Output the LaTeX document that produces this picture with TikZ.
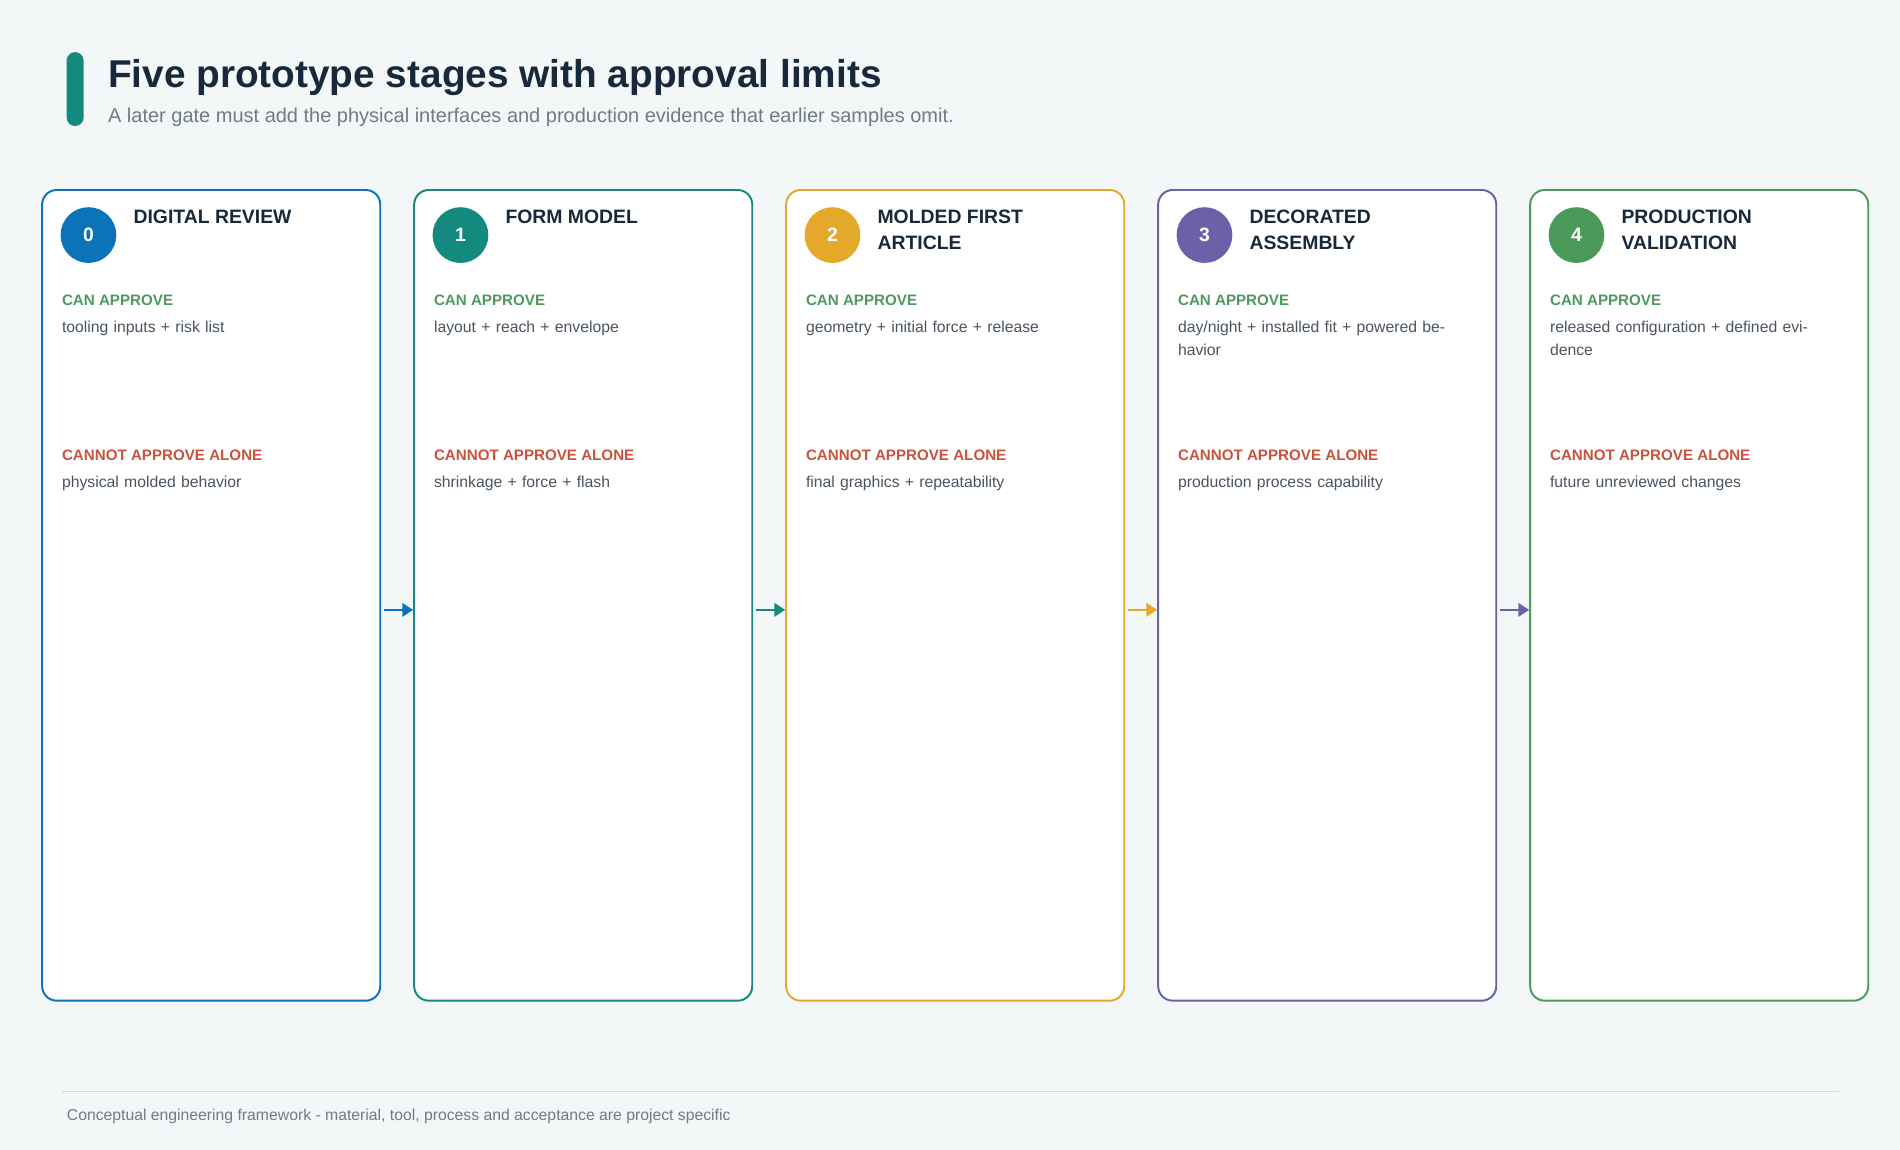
\documentclass[tikz,border=0pt]{standalone}
\usepackage{fontspec}
\setmainfont{Liberation Sans}
\usepackage{tikz}
\usetikzlibrary{arrows.meta,positioning}
\definecolor{bgcol}{HTML}{F3F7F8}
\definecolor{ink}{HTML}{17293A}
\definecolor{muted}{HTML}{6E7C86}
\definecolor{body}{HTML}{4A5560}
\definecolor{okgreen}{HTML}{4E9A5E}
\definecolor{nored}{HTML}{C9523D}
\definecolor{c0}{HTML}{0B73B7}
\definecolor{c1}{HTML}{138A7D}
\definecolor{c2}{HTML}{E4A82B}
\definecolor{c3}{HTML}{6E60A8}
\definecolor{c4}{HTML}{4B9A59}
\definecolor{rulecol}{HTML}{C7D8DE}
\tikzset{
  card/.style={draw=#1, line width=1.6pt, fill=white, rounded corners=12pt,
    minimum width=279pt, minimum height=669pt, anchor=north west, inner sep=0pt},
  badge/.style={circle, fill=#1, minimum size=46pt, inner sep=0pt, text=white,
    font=\fontsize{16}{16}\selectfont\bfseries},
  stagetitle/.style={anchor=north west, align=left, text=ink, inner sep=0pt,
    font=\fontsize{16}{21.5}\selectfont\bfseries},
  tag/.style={anchor=west, inner sep=0pt, text=#1, font=\fontsize{12.5}{13}\selectfont\bfseries},
  note/.style={anchor=north west, align=left, inner sep=0pt, text=body, text width=225pt,
    font=\fontsize{13}{19}\selectfont},
  flow/.style={-{Triangle[length=9pt,width=11pt]}, line width=2.2pt, draw=#1}
}
\begin{document}
\begin{tikzpicture}[x=1pt,y=-1pt]
\fill[bgcol] (0,0) rectangle (1568,949);
\useasboundingbox (0,0) rectangle (1568,949);
% heading
\fill[c1, rounded corners=7pt] (55,43) rectangle (69,104);
\node[anchor=base west, inner sep=0pt, text=ink, font=\fontsize{32}{32}\selectfont\bfseries]
  (title) at (89,72) {Five prototype stages with approval limits};
\node[anchor=base west, inner sep=0pt, text=muted, font=\fontsize{16.5}{17}\selectfont]
  (subtitle) at (89,101) {A later gate must add the physical interfaces and production evidence that earlier samples omit.};
% stages
\foreach \i/\name/\yes/\no in {
  0/{DIGITAL REVIEW}/{tooling inputs + risk list}/{physical molded behavior},
  1/{FORM MODEL}/{layout + reach + envelope}/{shrinkage + force + flash},
  2/{MOLDED FIRST\\ARTICLE}/{geometry + initial force + release}/{final graphics + repeatability},
  3/{DECORATED\\ASSEMBLY}/{day/night + installed fit + powered behavior}/{production process capability},
  4/{PRODUCTION\\VALIDATION}/{released configuration + defined evidence}/{future unreviewed changes}}
{
  \pgfmathsetmacro{\xx}{34+307*\i}
  \node[card=c\i] (card\i) at (\xx,156) {};
  \node[badge=c\i] (badge\i) at (\xx+39,194) {\i};
  \node[stagetitle] (head\i) at (\xx+76,173) {\name};
  \node[tag=okgreen] (can\i) at (\xx+17,248) {CAN APPROVE};
  \node[note] (yes\i) at (\xx+17,265) {\yes};
  \node[tag=nored] (cannot\i) at (\xx+17,376) {CANNOT APPROVE ALONE};
  \node[note] (no\i) at (\xx+17,393) {\no};
}
% hand-offs
\foreach \i [evaluate=\i as \j using int(\i+1)] in {0,...,3}
  \draw[flow=c\i] ([yshift=-12pt]card\i.east) ++(2,0) coordinate (out\i) -- ([yshift=-12pt]card\j.west);
% footer
\draw[rulecol, line width=1pt] (51,901) coordinate (ruleL) -- (1518,901) coordinate (ruleR);
\node[anchor=base west, inner sep=0pt, text=muted, font=\fontsize{13}{13}\selectfont]
  (footer) at (55,925) {Conceptual engineering framework - material, tool, process and acceptance are project specific};
\end{tikzpicture}
\end{document}
